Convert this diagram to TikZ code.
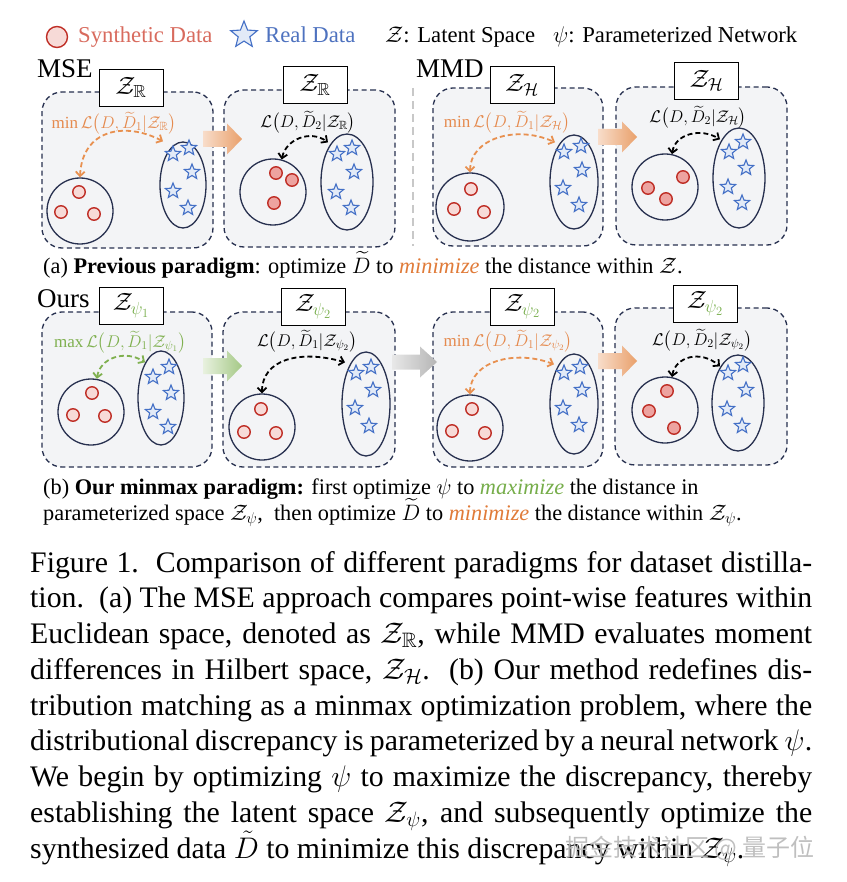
\RequirePackage{fix-cm}
\documentclass[tikz,border=0pt]{standalone}
\usepackage{amsmath,amssymb}
\usepackage{fontspec}
\setmainfont{Liberation Serif}
\newfontfamily\cjkfont{Noto Sans CJK SC}
\usetikzlibrary{shapes.geometric,arrows.meta,calc}
\definecolor{navy}{HTML}{27304F}
\definecolor{boxfill}{HTML}{F3F4F6}
\definecolor{synred}{HTML}{BF2E26}
\definecolor{synfill}{HTML}{F7DAD7}
\definecolor{synfillb}{HTML}{EDA3A0}
\definecolor{realblue}{HTML}{4470C6}
\definecolor{realfill}{HTML}{E2EAF7}
\definecolor{aorange}{HTML}{E8904F}
\definecolor{lorange}{HTML}{E58A4E}
\definecolor{agreen}{HTML}{7FB04F}
\definecolor{corange}{HTML}{E07B39}
\definecolor{cgreen}{HTML}{76AD4A}
\definecolor{legsyn}{HTML}{D86B5E}
\definecolor{legreal}{HTML}{4E72BF}
\definecolor{sepgray}{HTML}{C8C8C8}
\definecolor{fatOl}{HTML}{F8DDCA}
\definecolor{fatOr}{HTML}{E9A06B}
\definecolor{fatGl}{HTML}{E8F1DF}
\definecolor{fatGr}{HTML}{A5C986}
\definecolor{fatKl}{HTML}{E8E8E8}
\definecolor{fatKr}{HTML}{B5B5B5}
\begin{document}
\begin{tikzpicture}[x=1pt,y=-1pt,
  spacebox/.style={draw=navy,dash pattern=on 5pt off 3.5pt,line width=1.3pt,rounded corners=20pt,fill=boxfill,inner sep=0},
  labelbox/.style={draw=black,line width=0.9pt,fill=white,minimum width=64pt,minimum height=37pt,inner sep=0,font=\fontsize{25}{28}\selectfont},
  cluster/.style={circle,draw=navy,line width=1.3pt,minimum size=66pt,inner sep=0},
  realset/.style={ellipse,draw=navy,line width=1.3pt,inner sep=0},
  synpt/.style={circle,draw=synred,line width=1.4pt,fill=synfill,minimum size=12.5pt,inner sep=0},
  synopt/.style={synpt,fill=synfillb},
  realpt/.style={star,star points=5,star point ratio=2.3,draw=realblue,fill=realfill,line width=1.1pt,minimum size=16pt,inner sep=0},
  dist/.style={line width=1.8pt,dash pattern=on 5pt off 3pt,{Straight Barb[length=4.5pt,width=9pt]}-{Straight Barb[length=4.5pt,width=9pt]}},
  lbl/.style={inner sep=0,font=\fontsize{17}{20}\selectfont},
  fatO/.style={left color=fatOl,right color=fatOr,draw=none},
  fatG/.style={left color=fatGl,right color=fatGr,draw=none},
  fatK/.style={left color=fatKl,right color=fatKr,draw=none},
  titletext/.style={anchor=base west,inner sep=0,font=\fontsize{27}{30}\selectfont},
  legtext/.style={anchor=base west,inner sep=0,font=\fontsize{22.7}{26}\selectfont},
  subcap/.style={anchor=base west,inner sep=0,font=\fontsize{22.3}{26}\selectfont},
  figcap/.style={anchor=base west,inner sep=0,font=\fontsize{29.8}{34}\selectfont}
]
\useasboundingbox (0,0) rectangle (846,882);

% ---------- legend ----------
\node[synpt,minimum size=21pt] (lgc) at (57,37) {};
\node[legtext,text=legsyn] (lgt1) at (78,43) {Synthetic Data};
\node[realpt,minimum size=28pt] (lgs) at (244,35) {};
\node[legtext,text=legreal] (lgt2) at (265,43) {Real Data};
\node[legtext] (lgt3) at (385,43) {$\mathcal{Z}$: Latent Space};
\node[legtext] (lgt4) at (553,43) {$\psi$: Parameterized Network};

% ---------- titles ----------
\node[titletext] (tmse) at (37,78) {MSE};
\node[titletext] (tmmd) at (416,78) {MMD};
\node[titletext] (tours) at (37,307) {Ours};

% separator
\draw[sepgray,line width=2pt,dash pattern=on 8pt off 5pt] (413,88) -- (413,246);

% ---------- boxes ----------
\node[spacebox,minimum width=171pt,minimum height=156pt] (A1) at (127.5,170) {};
\node[spacebox,minimum width=171pt,minimum height=157pt] (A2) at (309.5,168.5) {};
\node[spacebox,minimum width=170pt,minimum height=158pt] (A3) at (518,167) {};
\node[spacebox,minimum width=171pt,minimum height=158pt] (A4) at (701.5,166) {};
\node[spacebox,minimum width=170pt,minimum height=155pt] (B1) at (127,389.5) {};
\node[spacebox,minimum width=172pt,minimum height=155pt] (B2) at (309,389.5) {};
\node[spacebox,minimum width=170pt,minimum height=155pt] (B3) at (518,389.5) {};
\node[spacebox,minimum width=172pt,minimum height=157pt] (B4) at (701,386.5) {};

% ---------- label boxes ----------
\node[labelbox] (A1L) at (131,87.5) {$\mathcal{Z}_{\mathbb{R}}$};
\node[labelbox] (A2L) at (315,85) {$\mathcal{Z}_{\mathbb{R}}$};
\node[labelbox] (A3L) at (522,85) {$\mathcal{Z}_{\mathcal{H}}$};
\node[labelbox] (A4L) at (706.5,80.5) {$\mathcal{Z}_{\mathcal{H}}$};
\node[labelbox] (B1L) at (131,306) {$\mathcal{Z}_{\textcolor{cgreen}{\psi_1}}$};
\node[labelbox] (B2L) at (313,307) {$\mathcal{Z}_{\textcolor{cgreen}{\psi_2}}$};
\node[labelbox] (B3L) at (522,306.5) {$\mathcal{Z}_{\textcolor{cgreen}{\psi_2}}$};
\node[labelbox] (B4L) at (705,304) {$\mathcal{Z}_{\textcolor{cgreen}{\psi_2}}$};

% ---------- panel A1 ----------
\node[cluster] (A1c) at (80,211) {};
\node[synpt] (A1s1) at (79,192) {};
\node[synpt] (A1s2) at (61,212) {};
\node[synpt] (A1s3) at (94,214) {};
\node[realset,minimum width=46pt,minimum height=86pt] (A1e) at (183,185) {};
\node[realpt] (A1r1) at (173,154) {};
\node[realpt] (A1r2) at (189,148) {};
\node[realpt] (A1r3) at (192,172) {};
\node[realpt] (A1r4) at (173,191) {};
\node[realpt] (A1r5) at (188,208) {};
\node[lbl,text=lorange] (A1t) at (114,123) {$\min\mathcal{L}\bigl(D,\widetilde{D}_1|\mathcal{Z}_{\mathbb{R}}\bigr)$};
\draw[dist,draw=aorange] (A1c.north) .. controls +(2,-48) and +(-38,-20) .. ([shift={(-20,0)}]A1e.north);

% ---------- panel A2 ----------
\node[cluster] (A2c) at (273,192) {};
\node[synopt] (A2s1) at (276,173) {};
\node[synopt] (A2s2) at (292,180) {};
\node[synopt] (A2s3) at (274,203) {};
\node[realset,minimum width=52pt,minimum height=96pt] (A2e) at (347,182) {};
\node[realpt] (A2r1) at (337,154) {};
\node[realpt] (A2r2) at (352,148) {};
\node[realpt] (A2r3) at (354,172) {};
\node[realpt] (A2r4) at (336,192) {};
\node[realpt] (A2r5) at (351,208) {};
\node[lbl] (A2t) at (308,122) {$\mathcal{L}\bigl(D,\widetilde{D}_2|\mathcal{Z}_{\mathbb{R}}\bigr)$};
\draw[dist] (A2c.75) .. controls +(4,-20) and +(-18,-13) .. ([shift={(-19,9)}]A2e.north);

% ---------- panel A3 ----------
\node[cluster,minimum size=68pt] (A3c) at (470,207) {};
\node[synpt] (A3s1) at (471,189) {};
\node[synpt] (A3s2) at (454,209) {};
\node[synpt] (A3s3) at (484,212) {};
\node[realset,minimum width=48pt,minimum height=94pt] (A3e) at (574,182) {};
\node[realpt] (A3r1) at (564,152) {};
\node[realpt] (A3r2) at (581,146) {};
\node[realpt] (A3r3) at (582,170) {};
\node[realpt] (A3r4) at (563,188) {};
\node[realpt] (A3r5) at (579,205) {};
\node[lbl,text=lorange] (A3t) at (507,122) {$\min\mathcal{L}\bigl(D,\widetilde{D}_1|\mathcal{Z}_{\mathcal{H}}\bigr)$};
\draw[dist,draw=aorange] (A3c.north) .. controls +(0,-33) and +(-40,-18) .. ([shift={(-19,8)}]A3e.north);

% ---------- panel A4 ----------
\node[cluster] (A4c) at (665,187) {};
\node[synopt] (A4s1) at (648,188) {};
\node[synopt] (A4s2) at (666,199) {};
\node[synopt] (A4s3) at (683,177) {};
\node[realset,minimum width=52pt,minimum height=100pt] (A4e) at (739,178) {};
\node[realpt] (A4r1) at (729,152) {};
\node[realpt] (A4r2) at (743,142) {};
\node[realpt] (A4r3) at (746,168) {};
\node[realpt] (A4r4) at (728,187) {};
\node[realpt] (A4r5) at (742,203) {};
\node[lbl] (A4t) at (698,117) {$\mathcal{L}\bigl(D,\widetilde{D}_2|\mathcal{Z}_{\mathcal{H}}\bigr)$};
\draw[dist] (A4c.78) .. controls +(3,-20) and +(-20,-12) .. ([shift={(-19,12)}]A4e.north);

% ---------- panel B1 ----------
\node[cluster] (B1c) at (91,412) {};
\node[synpt] (B1s1) at (92,393) {};
\node[synpt] (B1s2) at (73,415) {};
\node[synpt] (B1s3) at (105,416) {};
\node[realset,minimum width=46pt,minimum height=94pt] (B1e) at (161,398) {};
\node[realpt] (B1r1) at (153,377) {};
\node[realpt] (B1r2) at (169,367) {};
\node[realpt] (B1r3) at (171,393) {};
\node[realpt] (B1r4) at (153,412) {};
\node[realpt] (B1r5) at (168,427) {};
\node[lbl,text=agreen] (B1t) at (120,342) {$\max\mathcal{L}\bigl(D,\widetilde{D}_1|\mathcal{Z}_{\psi_1}\bigr)$};
\draw[dist,draw=agreen] (B1c.80) .. controls +(3,-21) and +(-20,-13) .. ([shift={(-16,12)}]B1e.north);

% ---------- panel B2 ----------
\node[cluster] (B2c) at (262,427) {};
\node[synpt] (B2s1) at (261,409) {};
\node[synpt] (B2s2) at (244,432) {};
\node[synpt] (B2s3) at (276,433) {};
\node[realset,minimum width=48pt,minimum height=104pt] (B2e) at (366,404) {};
\node[realpt] (B2r1) at (356,373) {};
\node[realpt] (B2r2) at (371,367) {};
\node[realpt] (B2r3) at (373,390) {};
\node[realpt] (B2r4) at (355,408) {};
\node[realpt] (B2r5) at (369,426) {};
\node[lbl] (B2t) at (307,341) {$\mathcal{L}\bigl(D,\widetilde{D}_1|\mathcal{Z}_{\psi_2}\bigr)$};
\draw[dist] (B2c.north) .. controls +(0,-34) and +(-45,-13) .. ([shift={(-21,11)}]B2e.north);

% ---------- panel B3 ----------
\node[cluster] (B3c) at (470,428) {};
\node[synpt] (B3s1) at (472,409) {};
\node[synpt] (B3s2) at (452,431) {};
\node[synpt] (B3s3) at (485,433) {};
\node[realset,minimum width=48pt,minimum height=100pt] (B3e) at (574,404) {};
\node[realpt] (B3r1) at (564,373) {};
\node[realpt] (B3r2) at (580,367) {};
\node[realpt] (B3r3) at (582,390) {};
\node[realpt] (B3r4) at (563,408) {};
\node[realpt] (B3r5) at (579,425) {};
\node[lbl,text=lorange] (B3t) at (508,341) {$\min\mathcal{L}\bigl(D,\widetilde{D}_1|\mathcal{Z}_{\psi_2}\bigr)$};
\draw[dist,draw=aorange] (B3c.north) .. controls +(0,-33) and +(-39,-15) .. ([shift={(-20,11)}]B3e.north);

% ---------- panel B4 ----------
\node[cluster] (B4c) at (665,410) {};
\node[synopt] (B4s1) at (667,391) {};
\node[synopt] (B4s2) at (649,411) {};
\node[synopt] (B4s3) at (674,428) {};
\node[realset,minimum width=52pt,minimum height=96pt] (B4e) at (738,403) {};
\node[realpt] (B4r1) at (728,373) {};
\node[realpt] (B4r2) at (743,365) {};
\node[realpt] (B4r3) at (746,390) {};
\node[realpt] (B4r4) at (727,409) {};
\node[realpt] (B4r5) at (742,426) {};
\node[lbl] (B4t) at (702,340) {$\mathcal{L}\bigl(D,\widetilde{D}_2|\mathcal{Z}_{\psi_2}\bigr)$};
\draw[dist] (B4c.78) .. controls +(3,-20) and +(-20,-17) .. ([shift={(-18,12)}]B4e.north);

% ---------- fat arrows between panels ----------
\coordinate (ar1) at (203,139);
\coordinate (ar2) at (598,137);
\coordinate (ar3) at (203,366);
\coordinate (ar4) at (392,362);
\coordinate (ar5) at (598,361);
\shade[fatO] (ar1) ++(0,-8) -- ++(24,0) -- ++(0,-7.5) -- ++(15,15.5) -- ++(-15,15.5) -- ++(0,-7.5) -- ++(-24,0) -- cycle;
\shade[fatO] (ar2) ++(0,-8) -- ++(24,0) -- ++(0,-7.5) -- ++(15,15.5) -- ++(-15,15.5) -- ++(0,-7.5) -- ++(-24,0) -- cycle;
\shade[fatG] (ar3) ++(0,-8) -- ++(24,0) -- ++(0,-7.5) -- ++(15,15.5) -- ++(-15,15.5) -- ++(0,-7.5) -- ++(-24,0) -- cycle;
\shade[fatK] (ar4) ++(0,-7.5) -- ++(28,0) -- ++(0,-8) -- ++(17,15.5) -- ++(-17,15.5) -- ++(0,-8) -- ++(-28,0) -- cycle;
\shade[fatO] (ar5) ++(0,-8) -- ++(24,0) -- ++(0,-7.5) -- ++(15,15.5) -- ++(-15,15.5) -- ++(0,-7.5) -- ++(-24,0) -- cycle;

% ---------- sub captions ----------
\node[subcap] (capa) at (43,273) {(a) \textbf{Previous paradigm}: optimize $\widetilde{D}$ to \textcolor{corange}{\textit{minimize}} the distance within $\mathcal{Z}$.};
\node[subcap] (capb1) at (43,494) {(b) \textbf{Our minmax paradigm:} first optimize $\psi$ to \textcolor{cgreen}{\textit{maximize}} the distance in};
\node[subcap] (capb2) at (43,520) {parameterized space $\mathcal{Z}_{\psi}$,\ \ then optimize $\widetilde{D}$ to \textcolor{corange}{\textit{minimize}} the distance within $\mathcal{Z}_{\psi}$.};

% ---------- figure caption ----------
\node[figcap] (c1) at (30,572) {\makebox[782pt][s]{Figure 1.\ \ Comparison of different paradigms for dataset distilla-}};
\node[figcap] (c2) at (30,607.75) {\makebox[782pt][s]{tion.\ \ (a) The MSE approach compares point-wise features within}};
\node[figcap] (c3) at (30,643.5) {\makebox[782pt][s]{Euclidean space, denoted as $\mathcal{Z}_{\mathbb{R}}$, while MMD evaluates moment}};
\node[figcap] (c4) at (30,679.25) {\makebox[782pt][s]{differences in Hilbert space, $\mathcal{Z}_{\mathcal{H}}$.\ \ (b) Our method redefines dis-}};
\node[figcap] (c5) at (30,715) {\makebox[782pt][s]{tribution matching as a minmax optimization problem, where the}};
\node[figcap] (c6) at (30,750.75) {\makebox[782pt][s]{distributional discrepancy is parameterized by a neural network $\psi$.}};
\node[figcap] (c7) at (30,786.5) {\makebox[782pt][s]{We begin by optimizing $\psi$ to maximize the discrepancy, thereby}};
\node[figcap] (c8) at (30,822.25) {\makebox[782pt][s]{establishing the latent space $\mathcal{Z}_{\psi}$, and subsequently optimize the}};
\node[figcap] (c9) at (30,858) {synthesized data $\tilde{D}$ to minimize this discrepancy within $\mathcal{Z}_{\psi}$.};

% watermark
\node[anchor=base west,inner sep=0,text=black!28,opacity=0.9,font=\cjkfont\fontsize{24}{26}\selectfont] (wm) at (565,856) {掘金技术社区 @ 量子位};
\end{tikzpicture}
\end{document}
